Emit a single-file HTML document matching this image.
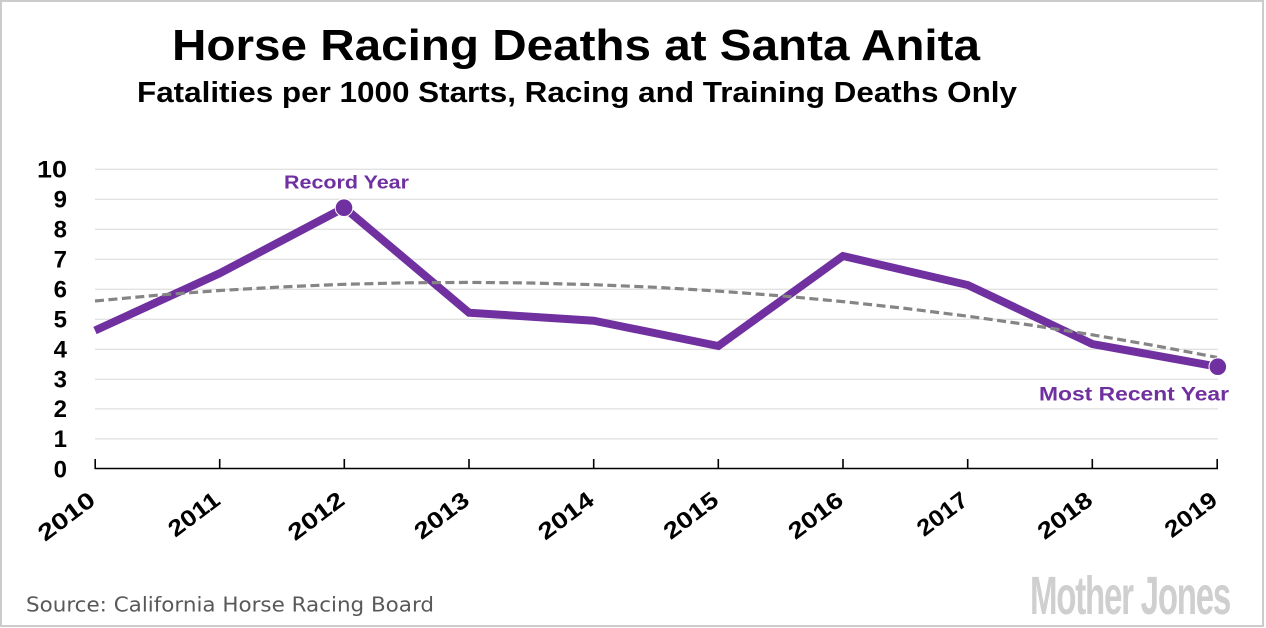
<!DOCTYPE html>
<html>
<head>
<meta charset="utf-8">
<style>
  html, body { margin: 0; padding: 0; background: #ffffff; }
  body { width: 1266px; height: 628px; overflow: hidden; }
  svg { display: block; }
  .ttl { font-family: "Liberation Sans", "DejaVu Sans", sans-serif; font-weight: bold; fill: #000; }
  .yl { font-family: "Liberation Sans", sans-serif; font-weight: bold; font-size: 24px; fill: #000; }
  .xl { font-family: "Liberation Sans", sans-serif; font-weight: bold; font-size: 23px; fill: #000; }
  .ann { font-family: "Liberation Sans", sans-serif; font-weight: bold; fill: #7030a0; }
</style>
</head>
<body>
<svg width="1266" height="628" viewBox="0 0 1266 628" xmlns="http://www.w3.org/2000/svg">
  <rect x="0" y="0" width="1266" height="628" fill="#ffffff"/>
  <rect x="1" y="1" width="1262" height="625" fill="none" stroke="#cccccc" stroke-width="2"/>

  <!-- Titles -->
  <text class="ttl" x="172" y="60" font-size="44" textLength="808" lengthAdjust="spacingAndGlyphs">Horse Racing Deaths at Santa Anita</text>
  <text class="ttl" x="137" y="102" font-size="29" textLength="880" lengthAdjust="spacingAndGlyphs">Fatalities per 1000 Starts, Racing and Training Deaths Only</text>

  <!-- Gridlines -->
  <g stroke="#e2e2e2" stroke-width="1.3">
    <line x1="95" y1="169.3" x2="1218" y2="169.3"/>
    <line x1="95" y1="199.3" x2="1218" y2="199.3"/>
    <line x1="95" y1="229.3" x2="1218" y2="229.3"/>
    <line x1="95" y1="259.3" x2="1218" y2="259.3"/>
    <line x1="95" y1="289.3" x2="1218" y2="289.3"/>
    <line x1="95" y1="319.3" x2="1218" y2="319.3"/>
    <line x1="95" y1="349.3" x2="1218" y2="349.3"/>
    <line x1="95" y1="379.3" x2="1218" y2="379.3"/>
    <line x1="95" y1="408.8" x2="1218" y2="408.8"/>
    <line x1="95" y1="438.8" x2="1218" y2="438.8"/>
  </g>

  <!-- Y labels -->
  <g class="yl" text-anchor="end">
    <text x="67" y="177.5" textLength="30" lengthAdjust="spacingAndGlyphs">10</text>
    <text x="67" y="207.5">9</text>
    <text x="67" y="237.5">8</text>
    <text x="67" y="267.5">7</text>
    <text x="67" y="297.5">6</text>
    <text x="67" y="327.5">5</text>
    <text x="67" y="357.5">4</text>
    <text x="67" y="387.5">3</text>
    <text x="67" y="417">2</text>
    <text x="67" y="447">1</text>
    <text x="67" y="477.5">0</text>
  </g>

  <!-- X axis -->
  <g stroke="#000" stroke-width="1.6">
    <line x1="94.5" y1="468.5" x2="1218" y2="468.5"/>
    <line x1="95.2" y1="459" x2="95.2" y2="469"/>
    <line x1="219.7" y1="459" x2="219.7" y2="469"/>
    <line x1="344.3" y1="459" x2="344.3" y2="469"/>
    <line x1="469" y1="459" x2="469" y2="469"/>
    <line x1="593.7" y1="459" x2="593.7" y2="469"/>
    <line x1="718.3" y1="459" x2="718.3" y2="469"/>
    <line x1="843" y1="459" x2="843" y2="469"/>
    <line x1="967.7" y1="459" x2="967.7" y2="469"/>
    <line x1="1092.3" y1="459" x2="1092.3" y2="469"/>
    <line x1="1217.2" y1="459" x2="1217.2" y2="469"/>
  </g>

  <!-- X labels -->
  <g class="xl" text-anchor="end">
    <text transform="translate(97,503) rotate(-37)" textLength="65" lengthAdjust="spacingAndGlyphs">2010</text>
    <text transform="translate(221.7,503) rotate(-37)" textLength="58" lengthAdjust="spacingAndGlyphs">2011</text>
    <text transform="translate(346.3,503) rotate(-37)" textLength="64" lengthAdjust="spacingAndGlyphs">2012</text>
    <text transform="translate(471,503) rotate(-37)" textLength="62" lengthAdjust="spacingAndGlyphs">2013</text>
    <text transform="translate(595.7,503) rotate(-37)" textLength="63" lengthAdjust="spacingAndGlyphs">2014</text>
    <text transform="translate(720.3,503) rotate(-37)" textLength="62" lengthAdjust="spacingAndGlyphs">2015</text>
    <text transform="translate(845,503) rotate(-37)" textLength="62" lengthAdjust="spacingAndGlyphs">2016</text>
    <text transform="translate(969.7,503) rotate(-37)" textLength="57" lengthAdjust="spacingAndGlyphs">2017</text>
    <text transform="translate(1094.3,503) rotate(-37)" textLength="62" lengthAdjust="spacingAndGlyphs">2018</text>
    <text transform="translate(1219,503) rotate(-37)" textLength="59" lengthAdjust="spacingAndGlyphs">2019</text>
  </g>

  <!-- Data series -->
  <polyline fill="none" stroke="#7030a0" stroke-width="8" stroke-linejoin="miter" stroke-miterlimit="4" stroke-linecap="butt"
    points="95,330.5 219.7,273.3 344.3,207.7 469,312.7 593.7,320.7 718.3,346 843,256 967.7,285 1092.3,344 1217.5,366.7"/>

  <!-- Trend line -->
  <polyline fill="none" stroke="#858585" stroke-width="3.2" stroke-dasharray="9 4.5"
    points="95,301.0 157.3,295.2 219.7,290.5 282,286.9 344.3,284.3 406.7,282.8 469,282.4 531.3,283.0 593.7,284.7 656,287.3 718.3,291.1 780.7,295.8 843,301.6 905.3,308.4 967.7,316.2 1030,325.0 1092.3,334.8 1154.7,345.6 1217,357.4"/>

  <!-- Markers -->
  <circle cx="344" cy="207.7" r="8.8" fill="#7030a0" stroke="#ffffff" stroke-width="1"/>
  <circle cx="1217.8" cy="366.7" r="8.8" fill="#7030a0" stroke="#ffffff" stroke-width="1"/>

  <!-- Annotations -->
  <text class="ann" x="284" y="188.3" font-size="18" textLength="125" lengthAdjust="spacingAndGlyphs">Record Year</text>
  <text class="ann" x="1039" y="400.7" font-size="19" textLength="190" lengthAdjust="spacingAndGlyphs">Most  Recent Year</text>

  <!-- Source -->
  <text x="26" y="611.5" font-family="'DejaVu Sans', 'Liberation Sans', sans-serif" font-size="20" fill="#595959" textLength="408" lengthAdjust="spacingAndGlyphs">Source: California Horse Racing Board</text>

  <!-- Logo -->
  <text x="1030" y="614" font-family="'Liberation Sans Narrow', 'Liberation Sans', sans-serif" font-weight="bold" font-size="54" fill="#cfcfcf" textLength="200" lengthAdjust="spacingAndGlyphs" letter-spacing="-2">Mother Jones</text>
</svg>
</body>
</html>
